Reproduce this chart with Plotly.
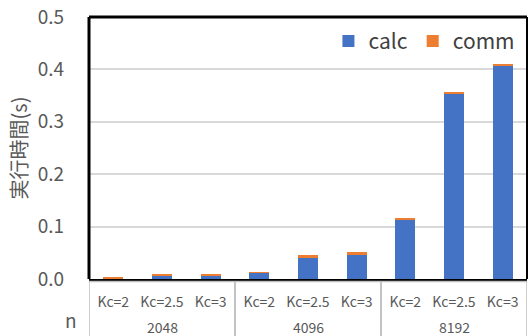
import plotly.graph_objects as go

groups = ["2048", "2048", "2048", "4096", "4096", "4096", "8192", "8192", "8192"]
kc = ["Kc=2", "Kc=2.5", "Kc=3", "Kc=2", "Kc=2.5", "Kc=3", "Kc=2", "Kc=2.5", "Kc=3"]
calc = [0.001, 0.005, 0.005, 0.012, 0.041, 0.046, 0.113, 0.354, 0.408]
comm = [0.001, 0.004, 0.0045, 0.001, 0.004, 0.005, 0.003, 0.003, 0.003]
yticks = [0.0, 0.1, 0.2, 0.3, 0.4, 0.5]
ytick_text = ["0.0", "0.1", "0.2", "0.3", "0.4", "0.5"]

keys = [f"{g} {k}" for g, k in zip(groups, kc)]

FONT = "Noto Sans CJK JP"
GRAY = "#595959"
fig = go.Figure()
fig.add_trace(go.Bar(x=keys, y=calc, name="calc", marker=dict(color="#4472C4", line=dict(width=0))))
fig.add_trace(go.Bar(x=keys, y=comm, name="comm", marker=dict(color="#ED7D31", line=dict(width=0))))

fig.update_layout(
    width=528, height=336,
    barmode="stack", bargap=0.59,
    margin=dict(l=89, r=1, t=17, b=57, autoexpand=False),
    paper_bgcolor="white", plot_bgcolor="white",
    font=dict(family=FONT, color=GRAY),
    showlegend=True,
    legend=dict(orientation="h", x=0.985, xanchor="right", y=0.985, yanchor="top",
                font=dict(size=21, color="#404040"), bgcolor="rgba(0,0,0,0)",
                traceorder="normal", itemwidth=30, tracegroupgap=0),
    xaxis=dict(type="category", tickvals=keys, ticktext=kc, range=[-0.5, len(keys) - 0.5],
               showline=True, linecolor="#000000", linewidth=2,
               tickfont=dict(size=14, color=GRAY), tickangle=0, showgrid=False, ticks="",
               ticklabelstandoff=9, automargin=False),
    yaxis=dict(range=[0, 0.5], tickvals=yticks, ticktext=ytick_text, showgrid=True,
               gridcolor="#D9D9D9", gridwidth=1.5, zeroline=False, showline=False,
               tickfont=dict(size=19, color=GRAY), ticks="", ticklabelstandoff=24,
               title=dict(text="実行時間(s)", font=dict(size=20, color=GRAY), standoff=4),
               automargin=False),
)

# group labels and dividers along the category axis
uniq = []
for g in groups:
    if g not in uniq:
        uniq.append(g)
for g in uniq:
    idx = [i for i, gg in enumerate(groups) if gg == g]
    fig.add_annotation(text=g, xref="x", yref="paper", x=(idx[0] + idx[-1]) / 2, y=-0.185,
                       xanchor="center", yanchor="middle", showarrow=False,
                       font=dict(size=14, color=GRAY))
    for xb in (idx[0] - 0.5, idx[-1] + 0.5):
        fig.add_shape(type="line", xref="x", yref="paper", x0=xb, x1=xb, y0=-0.01, y1=-0.23,
                      line=dict(color="#BFBFBF", width=1.5))
fig.add_shape(type="line", xref="paper", yref="paper", x0=0, x1=1, y0=-0.01, y1=-0.01,
              line=dict(color="#BFBFBF", width=1.5))

# frame
fig.add_shape(type="line", xref="paper", yref="paper", x0=0, x1=0, y0=0, y1=1,
              line=dict(color="black", width=3))
fig.add_shape(type="line", xref="paper", yref="paper", x0=0, x1=1, y0=1, y1=1,
              line=dict(color="black", width=3))
fig.add_shape(type="line", xref="paper", yref="paper", x0=1, x1=1, y0=0, y1=1,
              line=dict(color="black", width=2))
fig.add_annotation(text="n", xref="paper", yref="paper", x=-0.022, y=-0.213,
                   xanchor="right", yanchor="bottom", showarrow=False,
                   font=dict(size=19, color=GRAY))
fig.write_html("out.html", config={"displayModeBar": False},
               post_script="document.body.style.margin='0';document.body.style.overflow='hidden';")
